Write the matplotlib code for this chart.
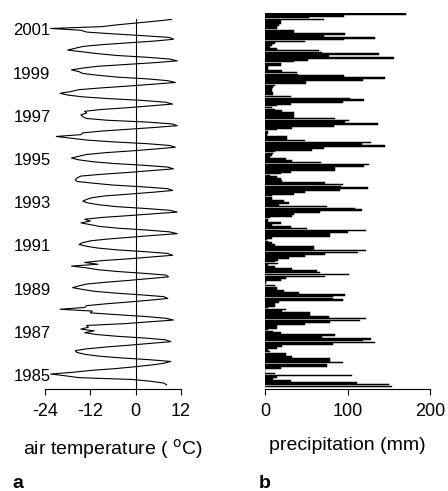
import pandas as pd
import matplotlib
matplotlib.use('Agg')
import matplotlib.pyplot as plt

plt.rcParams['font.family'] = ['Liberation Sans', 'DejaVu Sans']
plt.rcParams['axes.unicode_minus'] = False

# monthly mean air temperature (deg C), Jul 1984 - Jun 2001
temp_1984 = [8.2, 7.4, 4.0, -1.0, -15.0, -18.5]
temp_1985 = [-22.5, -16.5, -12.0, -5.5, -0.5, 4.0, 7.5, 9.3, 3.5, -4.0, -10.0, -13.5]
temp_1986 = [-15.5, -16.0, -13.0, -8.0, -2.0, 3.5, 9.3, 8.0, 2.5, -5.0, -10.5, -13.5]
temp_1987 = [-11.0, -14.5, -12.5, -13.0, -3.0, 3.5, 10.0, 8.0, 2.5, -5.0, -12.0, -11.5]
temp_1988 = [-20.0, -13.5, -13.0, -8.0, -2.0, 3.5, 8.5, 7.5, 1.5, -5.5, -11.0, -14.0]
temp_1989 = [-16.7, -15.0, -13.0, -8.0, -2.0, 3.5, 8.7, 8.0, 2.0, -5.0, -10.0, -13.0]
temp_1990 = [-17.0, -10.0, -13.5, -9.0, -2.0, 4.0, 9.8, 8.5, 2.5, -5.0, -10.0, -13.0]
temp_1991 = [-15.0, -14.0, -12.0, -7.5, -1.5, 4.5, 11.0, 9.0, 3.0, -4.5, -9.5, -12.0]
temp_1992 = [-14.5, -12.0, -13.5, -9.0, -2.0, 4.5, 11.0, 9.0, 2.5, -5.0, -9.5, -12.5]
temp_1993 = [-14.0, -13.0, -11.5, -8.0, -1.5, 4.5, 9.8, 8.5, 2.0, -6.0, -11.0, -15.5]
temp_1994 = [-16.0, -15.5, -14.5, -9.0, -2.0, 4.0, 10.0, 8.5, 2.0, -6.0, -11.5, -15.0]
temp_1995 = [-17.0, -15.0, -13.0, -8.0, -1.0, 5.0, 10.5, 9.0, 3.0, -6.0, -13.0, -17.0]
temp_1996 = [-21.0, -14.5, -14.0, -9.0, -2.0, 5.0, 11.0, 9.5, 3.0, -7.5, -13.0, -14.0]
temp_1997 = [-14.5, -13.0, -13.5, -9.0, -2.0, 4.0, 9.8, 8.0, 2.0, -7.0, -14.0, -18.0]
temp_1998 = [-20.0, -17.0, -15.0, -9.0, -2.0, 4.5, 10.5, 8.5, 3.0, -5.0, -10.0, -14.0]
temp_1999 = [-15.0, -17.0, -14.0, -10.0, -2.5, 5.0, 11.0, 9.0, 3.0, -5.0, -10.0, -14.0]
temp_2000 = [-18.0, -16.0, -14.0, -9.0, -2.0, 5.0, 10.0, 9.0, 2.0, -6.0, -13.0, -14.5]
temp_2001 = [-22.5, -9.0, -5.0, 0.0, 5.0, 9.5]

# monthly precipitation (mm), Jul 1984 - Jun 2001
prec_1984 = [154, 150, 112, 31, 10, 15]
prec_1985 = [106, 12, 0, 0, 19, 75, 75, 94, 79, 79, 33, 25]
prec_1986 = [25, 6, 4, 15, 21, 83, 133, 119, 129, 69, 85, 19]
prec_1987 = [10, 4, 15, 15, 48, 79, 115, 123, 77, 55, 55, 21]
prec_1988 = [25, 4, 12, 12, 17, 94, 83, 83, 97, 41, 23, 15]
prec_1989 = [15, 12, 1, 1, 19, 25, 73, 102, 67, 63, 33, 12]
prec_1990 = [4, 16, 12, 16, 29, 49, 73, 113, 122, 59, 59, 12]
prec_1991 = [8, 4, 2, 8, 79, 79, 101, 122, 51, 31, 8, 19]
prec_1992 = [4, 4, 6, 33, 35, 67, 117, 109, 75, 17, 29, 23]
prec_1993 = [8, 8, 8, 35, 49, 91, 125, 92, 95, 73, 21, 19]
prec_1994 = [15, 6, 19, 31, 85, 85, 120, 126, 68, 33, 25, 6]
prec_1995 = [8, 10, 12, 57, 71, 146, 117, 129, 49, 27, 27, 2]
prec_1996 = [4, 4, 15, 33, 84, 137, 97, 102, 85, 35, 35, 35]
prec_1997 = [21, 12, 8, 15, 31, 95, 120, 103, 31, 10, 10, 8]
prec_1998 = [8, 10, 12, 50, 50, 119, 145, 96, 40, 39, 21, 4]
prec_1999 = [4, 19, 19, 35, 52, 156, 77, 138, 69, 65, 15, 6]
prec_2000 = [8, 12, 49, 96, 133, 71, 97, 35, 35, 15, 15, 17]
prec_2001 = [19, 19, 71, 53, 96, 171]

temp = (temp_1984 + temp_1985 + temp_1986 + temp_1987 + temp_1988 + temp_1989
        + temp_1990 + temp_1991 + temp_1992 + temp_1993 + temp_1994 + temp_1995
        + temp_1996 + temp_1997 + temp_1998 + temp_1999 + temp_2000 + temp_2001)
prec = (prec_1984 + prec_1985 + prec_1986 + prec_1987 + prec_1988 + prec_1989
        + prec_1990 + prec_1991 + prec_1992 + prec_1993 + prec_1994 + prec_1995
        + prec_1996 + prec_1997 + prec_1998 + prec_1999 + prec_2000 + prec_2001)

year_labels = [1985, 1987, 1989, 1991, 1993, 1995, 1997, 1999, 2001]
temp_ticks = [-24, -12, 0, 12]
prec_ticks = [0, 100, 200]

months = pd.date_range('1984-07-01', periods=len(temp), freq='MS')
t = months.year + (months.month - 0.5) / 12

W, H = 448, 491
fig = plt.figure(figsize=(W / 100, H / 100), dpi=100)

# a: air temperature
ax1 = fig.add_axes([45 / W, 1 - 389 / H, 136 / W, 370 / H])
ax1.plot(temp, t, color='black', lw=0.8)
ax1.axvline(0, color='black', lw=0.8)
ax1.set_xlim(-24, 12)
ax1.set_ylim(1984.35, 2001.48)
ax1.set_xticks(temp_ticks)
ax1.set_yticks(year_labels)
ax1.set_xlabel('air temperature ( $^{\\rm o}$C)', fontsize=14, labelpad=12)

# b: precipitation
ax2 = fig.add_axes([265 / W, 1 - 389 / H, 165 / W, 376 / H])
ax2.barh(range(len(prec)), prec, height=0.9, color='black',
         edgecolor='black', linewidth=0.35)
ax2.set_xlim(0, 200)
ax2.set_ylim(-1.4, len(prec) - 0.5)
ax2.set_xticks(prec_ticks)
ax2.set_yticks([])
ax2.set_xlabel('precipitation (mm)', fontsize=14, labelpad=12)

for ax in (ax1, ax2):
    for side in ('top', 'right', 'left'):
        ax.spines[side].set_visible(False)
    ax.spines['bottom'].set_linewidth(0.8)
    ax.tick_params(axis='x', direction='out', length=4, width=0.8, labelsize=13, pad=6)
ax1.tick_params(axis='y', length=0, labelsize=12, pad=-4)

fig.text(12 / W, 1 - 484 / H, 'a', fontsize=14, fontweight='bold', va='center')
fig.text(259 / W, 1 - 484 / H, 'b', fontsize=14, fontweight='bold', va='center')

fig.savefig('out.png', dpi=100)
